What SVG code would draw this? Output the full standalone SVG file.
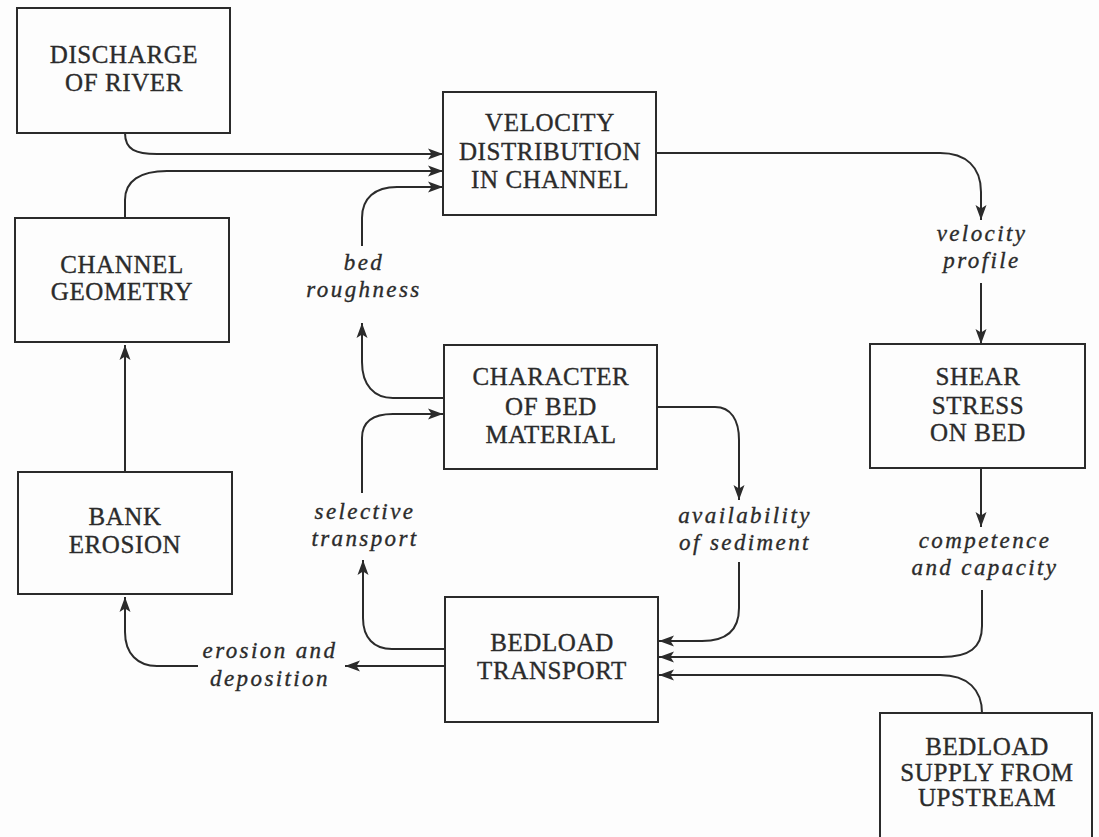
<svg xmlns="http://www.w3.org/2000/svg" width="1099" height="837" viewBox="0 0 1099 837">
<style>
.box{fill:none;stroke:#2b2b2b;stroke-width:2}
.lbl{font-family:"Liberation Serif","Times New Roman",serif;font-size:25px;fill:#2b2b2b;stroke:#2b2b2b;stroke-width:0.35;text-anchor:middle;letter-spacing:0.6px}
.it{font-family:"Liberation Serif","Times New Roman",serif;font-style:italic;font-size:23px;fill:#2b2b2b;stroke:#2b2b2b;stroke-width:0.35;text-anchor:middle;letter-spacing:2.4px}
.c{fill:none;stroke:#2b2b2b;stroke-width:2}
.a{marker-end:url(#ah)}
</style>
<defs>
<marker id="ah" markerUnits="userSpaceOnUse" markerWidth="16" markerHeight="12" refX="15" refY="6" orient="auto">
<path d="M0,0.5 L15,6 L0,11.5 L3.5,6 z" fill="#2b2b2b"/>
</marker>
</defs>
<rect width="1099" height="837" fill="#fdfdfd"/>

<g id="discharge">
<rect class="box" x="17" y="8" width="213" height="125"/>
<text class="lbl" x="124" y="63">DISCHARGE</text>
<text class="lbl" x="124" y="91">OF RIVER</text>
</g>
<g id="velocity">
<rect class="box" x="443" y="92" width="213" height="123"/>
<text class="lbl" x="550" y="131">VELOCITY</text>
<text class="lbl" x="550" y="160">DISTRIBUTION</text>
<text class="lbl" x="550" y="188">IN CHANNEL</text>
</g>
<g id="channel">
<rect class="box" x="15" y="218" width="214" height="124"/>
<text class="lbl" x="122" y="273">CHANNEL</text>
<text class="lbl" x="122" y="300">GEOMETRY</text>
</g>
<g id="character">
<rect class="box" x="444" y="345" width="213" height="124"/>
<text class="lbl" x="551" y="385">CHARACTER</text>
<text class="lbl" x="551" y="415">OF BED</text>
<text class="lbl" x="551" y="443">MATERIAL</text>
</g>
<g id="shear">
<rect class="box" x="870" y="344" width="215" height="124"/>
<text class="lbl" x="978" y="385">SHEAR</text>
<text class="lbl" x="978" y="414">STRESS</text>
<text class="lbl" x="978" y="441">ON BED</text>
</g>
<g id="bank">
<rect class="box" x="18" y="472" width="214" height="122"/>
<text class="lbl" x="125" y="525">BANK</text>
<text class="lbl" x="125" y="553">EROSION</text>
</g>
<g id="bedload">
<rect class="box" x="445" y="597" width="213" height="125"/>
<text class="lbl" x="552" y="651">BEDLOAD</text>
<text class="lbl" x="552" y="679">TRANSPORT</text>
</g>
<g id="supply">
<rect class="box" x="880" y="713" width="212" height="126"/>
<text class="lbl" x="987" y="755">BEDLOAD</text>
<text class="lbl" x="987" y="781">SUPPLY FROM</text>
<text class="lbl" x="987" y="806">UPSTREAM</text>
</g>

<g id="labels">
<text class="it" x="364" y="270">bed</text>
<text class="it" x="364" y="297">roughness</text>
<text class="it" x="982" y="241">velocity</text>
<text class="it" x="982" y="268">profile</text>
<text class="it" x="365" y="519">selective</text>
<text class="it" x="365" y="546">transport</text>
<text class="it" x="745" y="523">availability</text>
<text class="it" x="745" y="550">of sediment</text>
<text class="it" x="985" y="548">competence</text>
<text class="it" x="985" y="575">and capacity</text>
<text class="it" x="270" y="658">erosion and</text>
<text class="it" x="270" y="686">deposition</text>
</g>

<g id="connectors">
<path class="c a" d="M125,133 C125,150 136,154 157,154 L443,154"/>
<path class="c a" d="M125,218 L125,200 C125,181 140,171 167,171 L443,171"/>
<path class="c a" d="M362,246 L362,218 C362,198 375,187 397,187 L443,187"/>
<path class="c a" d="M656,153 L940,153 C966,153 981,167 981,192 L981,220"/>
<path class="c a" d="M981,283 L981,344"/>
<path class="c a" d="M981,468 L981,527"/>
<path class="c a" d="M444,398 L393,398 C374,398 362,385 362,362 L362,323"/>
<path class="c a" d="M362,493 L362,438 C362,421 373,414 393,414 L443,414"/>
<path class="c a" d="M657,407 L715,407 C731,407 739,420 739,440 L739,500"/>
<path class="c a" d="M739,562 L739,608 C739,630 726,641 702,641 L659,641"/>
<path class="c a" d="M982,590 L982,626 C982,648 969,657 942,657 L659,657"/>
<path class="c a" d="M982,713 C982,690 968,675 940,675 L659,675"/>
<path class="c a" d="M445,649 L392,649 C374,649 363,638 363,618 L363,560"/>
<path class="c a" d="M445,666 L345,666"/>
<path class="c a" d="M198,666 L157,666 C138,666 125,654 125,632 L125,597"/>
<path class="c a" d="M125,472 L125,345"/>
</g>
</svg>
